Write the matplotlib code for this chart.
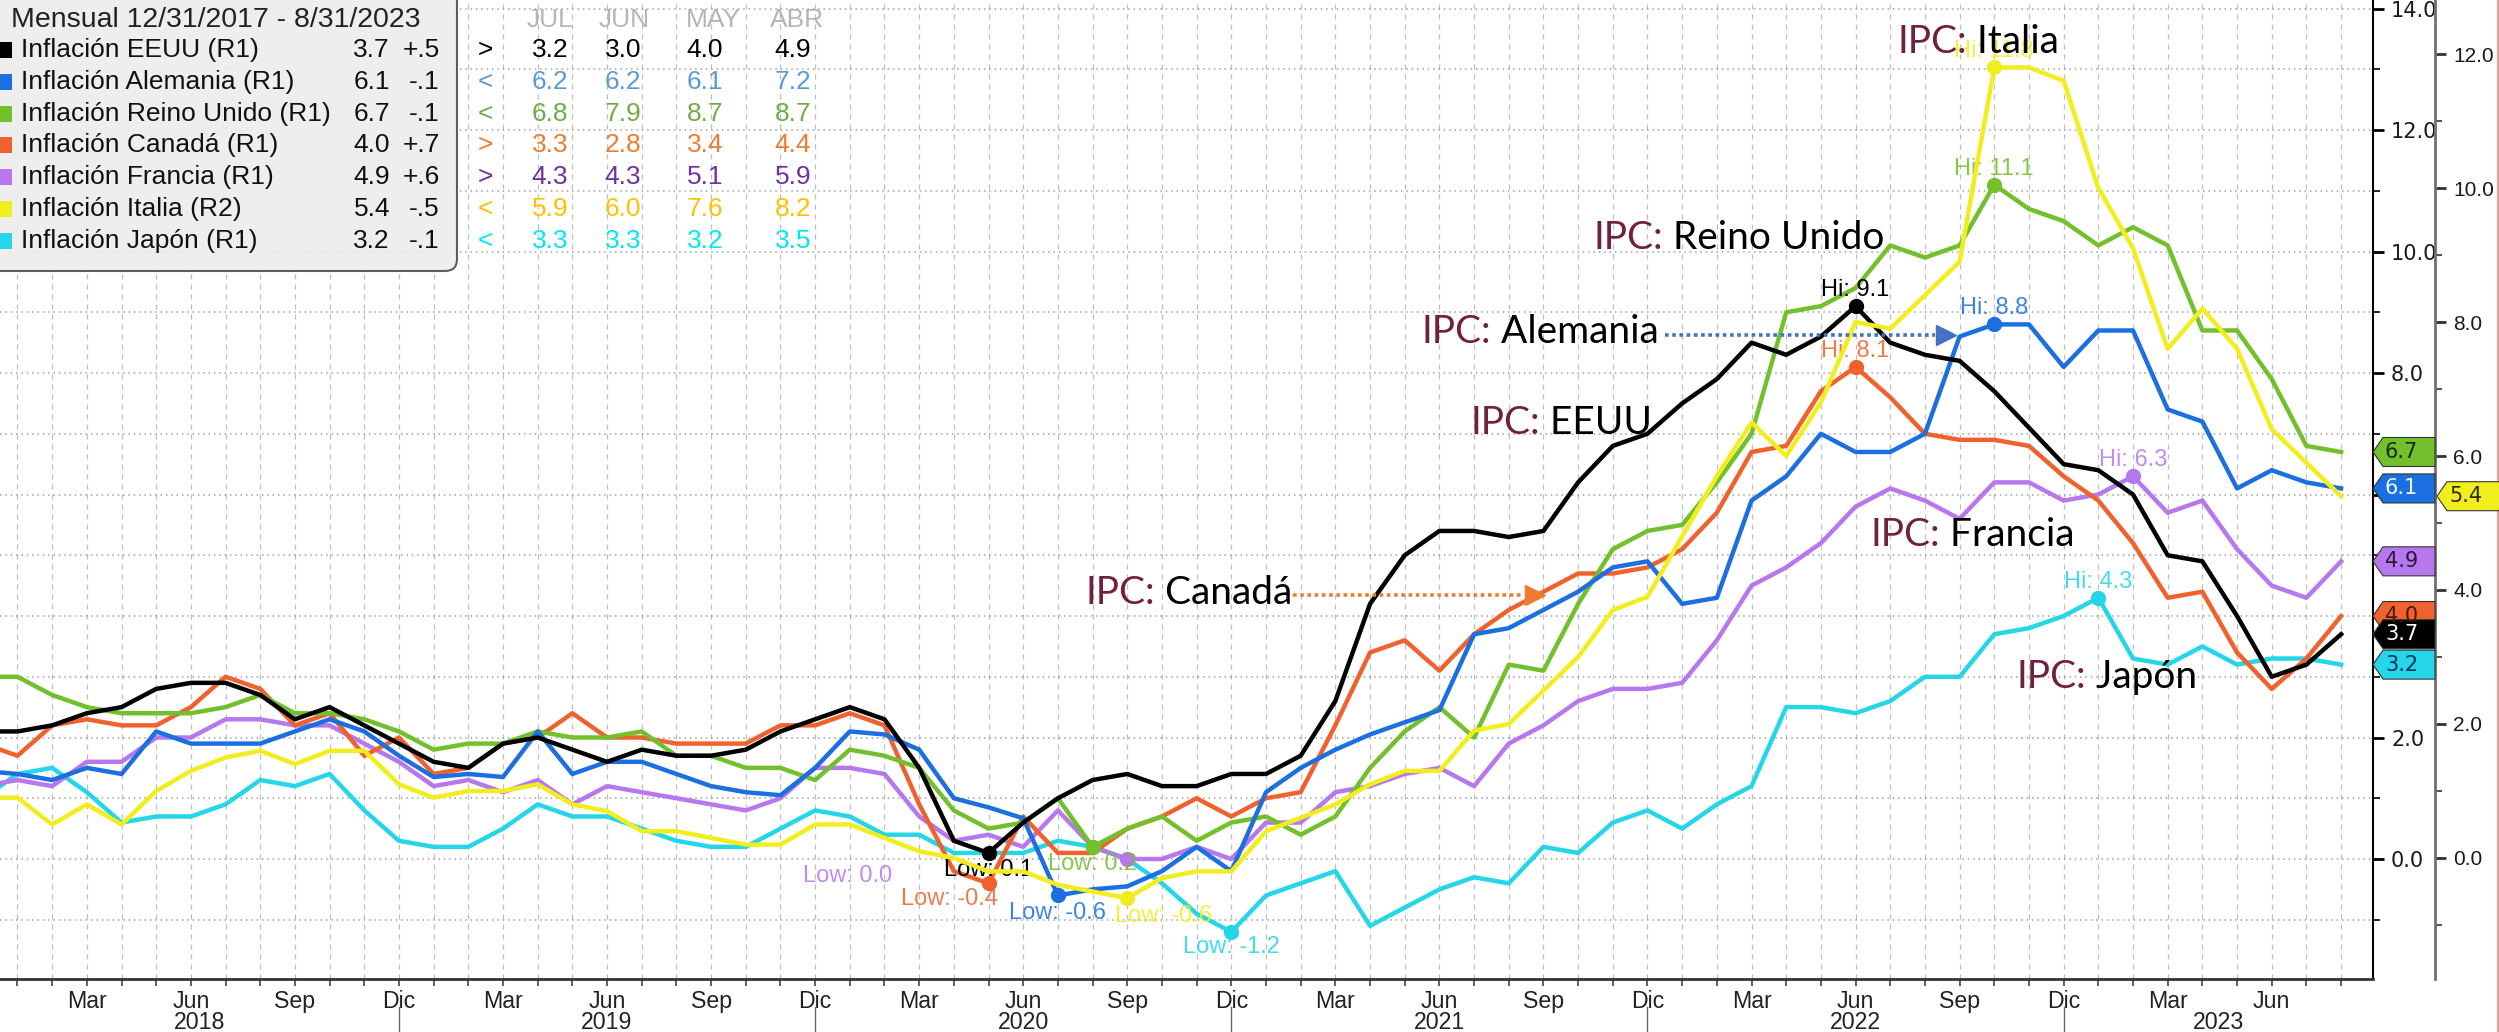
import numpy as np
import pandas as pd
import matplotlib
matplotlib.use("Agg")
import matplotlib.pyplot as plt
from matplotlib.patches import Polygon, FancyBboxPatch, Rectangle
from matplotlib.lines import Line2D
from matplotlib.ticker import FormatStrFormatter
from matplotlib.transforms import blended_transform_factory, IdentityTransform

plt.rcParams["font.family"] = ["Liberation Sans", "DejaVu Sans"]

# meses 12/2017 ... 8/2023 (inflacion interanual, %)
meses = pd.period_range("2017-12", "2023-08", freq="M")

eeuu = [2.1,
        2.1, 2.2, 2.4, 2.5, 2.8, 2.9, 2.9, 2.7, 2.3, 2.5, 2.2, 1.9,
        1.6, 1.5, 1.9, 2.0, 1.8, 1.6, 1.8, 1.7, 1.7, 1.8, 2.1, 2.3,
        2.5, 2.3, 1.5, 0.3, 0.1, 0.6, 1.0, 1.3, 1.4, 1.2, 1.2, 1.4,
        1.4, 1.7, 2.6, 4.2, 5.0, 5.4, 5.4, 5.3, 5.4, 6.2, 6.8, 7.0,
        7.5, 7.9, 8.5, 8.3, 8.6, 9.1, 8.5, 8.3, 8.2, 7.7, 7.1, 6.5,
        6.4, 6.0, 5.0, 4.9, 4.0, 3.0, 3.2, 3.7]
alemania = [1.45,
            1.4, 1.3, 1.5, 1.4, 2.1, 1.9, 1.9, 1.9, 2.1, 2.3, 2.1, 1.7,
            1.35, 1.4, 1.35, 2.1, 1.4, 1.6, 1.6, 1.4, 1.2, 1.1, 1.05, 1.5,
            2.1, 2.05, 1.8, 1.0, 0.85, 0.67, -0.6, -0.5, -0.45, -0.2, 0.2, -0.2,
            1.1, 1.5, 1.8, 2.05, 2.25, 2.45, 3.7, 3.8, 4.1, 4.4, 4.8, 4.9,
            4.2, 4.3, 5.9, 6.3, 7.0, 6.7, 6.7, 7.0, 8.6, 8.8, 8.8, 8.1,
            8.7, 8.7, 7.4, 7.2, 6.1, 6.4, 6.2, 6.1]
reino_unido = [3.0,
               3.0, 2.7, 2.5, 2.4, 2.4, 2.4, 2.5, 2.7, 2.4, 2.4, 2.3, 2.1,
               1.8, 1.9, 1.9, 2.1, 2.0, 2.0, 2.1, 1.7, 1.7, 1.5, 1.5, 1.3,
               1.8, 1.7, 1.5, 0.8, 0.5, 0.6, 1.0, 0.2, 0.5, 0.7, 0.3, 0.6,
               0.7, 0.4, 0.7, 1.5, 2.1, 2.5, 2.0, 3.2, 3.1, 4.2, 5.1, 5.4,
               5.5, 6.2, 7.0, 9.0, 9.1, 9.4, 10.1, 9.9, 10.1, 11.1, 10.7, 10.5,
               10.1, 10.4, 10.1, 8.7, 8.7, 7.9, 6.8, 6.7]
canada = [1.9,
          1.7, 2.2, 2.3, 2.2, 2.2, 2.5, 3.0, 2.8, 2.2, 2.4, 1.7, 2.0,
          1.4, 1.5, 1.9, 2.0, 2.4, 2.0, 2.0, 1.9, 1.9, 1.9, 2.2, 2.2,
          2.4, 2.2, 0.9, -0.2, -0.4, 0.7, 0.1, 0.1, 0.5, 0.7, 1.0, 0.7,
          1.0, 1.1, 2.2, 3.4, 3.6, 3.1, 3.7, 4.1, 4.4, 4.7, 4.7, 4.8,
          5.1, 5.7, 6.7, 6.8, 7.7, 8.1, 7.6, 7.0, 6.9, 6.9, 6.8, 6.3,
          5.9, 5.2, 4.3, 4.4, 3.4, 2.8, 3.3, 4.0]
francia = [1.2,
           1.3, 1.2, 1.6, 1.6, 2.0, 2.0, 2.3, 2.3, 2.2, 2.2, 1.9, 1.6,
           1.2, 1.3, 1.1, 1.3, 0.9, 1.2, 1.1, 1.0, 0.9, 0.8, 1.0, 1.5,
           1.5, 1.4, 0.7, 0.3, 0.4, 0.2, 0.8, 0.2, 0.0, 0.0, 0.2, 0.0,
           0.6, 0.6, 1.1, 1.2, 1.4, 1.5, 1.2, 1.9, 2.2, 2.6, 2.8, 2.8,
           2.9, 3.6, 4.5, 4.8, 5.2, 5.8, 6.1, 5.9, 5.6, 6.2, 6.2, 5.9,
           6.0, 6.3, 5.7, 5.9, 5.1, 4.5, 4.3, 4.9]
italia = [0.9,
          0.9, 0.5, 0.8, 0.5, 1.0, 1.3, 1.5, 1.6, 1.4, 1.6, 1.6, 1.1,
          0.9, 1.0, 1.0, 1.1, 0.8, 0.7, 0.4, 0.4, 0.3, 0.2, 0.2, 0.5,
          0.5, 0.3, 0.1, 0.0, -0.2, -0.2, -0.4, -0.5, -0.6, -0.3, -0.2, -0.2,
          0.4, 0.6, 0.8, 1.1, 1.3, 1.3, 1.9, 2.0, 2.5, 3.0, 3.7, 3.9,
          4.8, 5.7, 6.5, 6.0, 6.8, 8.0, 7.9, 8.4, 8.9, 11.8, 11.8, 11.6,
          10.0, 9.1, 7.6, 8.2, 7.6, 6.4, 5.9, 5.4]
japon = [1.0,
         1.4, 1.5, 1.1, 0.6, 0.7, 0.7, 0.9, 1.3, 1.2, 1.4, 0.8, 0.3,
         0.2, 0.2, 0.5, 0.9, 0.7, 0.7, 0.5, 0.3, 0.2, 0.2, 0.5, 0.8,
         0.7, 0.4, 0.4, 0.1, 0.1, 0.1, 0.3, 0.2, 0.0, -0.4, -0.9, -1.2,
         -0.6, -0.4, -0.2, -1.1, -0.8, -0.5, -0.3, -0.4, 0.2, 0.1, 0.6, 0.8,
         0.5, 0.9, 1.2, 2.5, 2.5, 2.4, 2.6, 3.0, 3.0, 3.7, 3.8, 4.0,
         4.3, 3.3, 3.2, 3.5, 3.2, 3.3, 3.3, 3.2]

paises = ["EEUU", "Alemania", "Reino Unido", "Canadá", "Francia", "Italia", "Japón"]
series = [eeuu, alemania, reino_unido, canada, francia, italia, japon]
ejes = ["R1", "R1", "R1", "R1", "R1", "R2", "R1"]
colores = ["#000000", "#1c6fe0", "#72c02c", "#f0622d", "#b778ee", "#f2ee1d", "#25d5e8"]
colores_tabla = ["#000000", "#5b9bd5", "#70ad47", "#ed7d31", "#7030a0", "#ffc000", "#00e8f0"]
colores_txt_tag = ["white", "#eef6ff", "#1a2a10", "#4a1a08", "#2a1a3a", "#2a2a00", "#10305a"]

# tabla de la derecha del cuadro de leyenda
tabla_meses = ["JUL", "JUN", "MAY", "ABR"]
tabla = [[3.2, 3.0, 4.0, 4.9],
         [6.2, 6.2, 6.1, 7.2],
         [6.8, 7.9, 8.7, 8.7],
         [3.3, 2.8, 3.4, 4.4],
         [4.3, 4.3, 5.1, 5.9],
         [5.9, 6.0, 7.6, 8.2],
         [3.3, 3.3, 3.2, 3.5]]

nombres_mes = {3: "Mar", 6: "Jun", 9: "Sep", 12: "Dic"}

W, H = 2499, 1032
fig = plt.figure(figsize=(W / 100, H / 100), dpi=100)
fig.patch.set_facecolor("white")
ax = fig.add_axes([0, 1 - 979 / H, 2373 / W, 979 / H])
ax2 = ax.twinx()
ax.yaxis.tick_right()

x = np.arange(len(meses))
XLIM = (0.496, 68.92)

# lineas (primera serie encima)
for k in reversed(range(len(paises))):
    eje = ax2 if ejes[k] == "R2" else ax
    eje.plot(x, series[k], color=colores[k], lw=3.2, zorder=3 + (7 - k) * 0.1)

# maximos y minimos
desp_low = {"EEUU": (0, -17), "Alemania": (0, -18), "Reino Unido": (0, -17),
            "Canadá": (-39, -16), "Francia": (-280, -17), "Italia": (36, -18),
            "Japón": (0, -15)}
for k, p in enumerate(paises):
    eje = ax2 if ejes[k] == "R2" else ax
    s = np.array(series[k])
    i_hi, i_lo = int(np.argmax(s)), int(np.argmin(s))
    for i, txt, off in [(i_hi, "Hi: %.1f" % s[i_hi], (0, 16)),
                        (i_lo, "Low: %.1f" % s[i_lo], desp_low[p])]:
        eje.plot(x[i], s[i], "o", ms=10, color=colores[k], zorder=5)
        eje.annotate(txt, xy=(x[i], s[i]), xytext=off, textcoords="offset pixels",
                     ha="center", va="center", fontsize=17, color=colores[k],
                     alpha=0.85 if k else 1, zorder=6)

# limites y ejes
ax.set_xlim(*XLIM)
ax.set_ylim(-1.975, 14.14)
ax2.set_ylim(-1.806, 12.806)

dentro = (x > XLIM[0]) & (x < XLIM[1])
trim = (meses.month % 3 == 0) & dentro
ax.set_xticks(x[trim])
ax.set_xticklabels([nombres_mes[m.month] for m in meses[trim]])
ax.set_xticks(x[dentro], minor=True)
ax.tick_params(axis="x", which="both", direction="out", length=5, width=1.2,
               color="#444444", labelsize=16.7, labelcolor="#222222", pad=3)

ax.set_yticks(np.arange(0, 15, 2))
ax.set_yticks(np.arange(-1, 14, 2), minor=True)
ax.yaxis.set_major_formatter(FormatStrFormatter("%.1f"))
ax.tick_params(axis="y", which="major", direction="out", length=8, width=2,
               color="black", labelsize=15, labelcolor="#1a1a1a", pad=5)
ax.tick_params(axis="y", which="minor", direction="out", length=5, width=1.2, color="black")

ax2.set_yticks(np.arange(0, 13, 2))
ax2.set_yticks(np.arange(-1, 13, 2), minor=True)
ax2.yaxis.set_major_formatter(FormatStrFormatter("%.1f"))
ax2.tick_params(axis="y", which="major", direction="out", length=8, width=2,
                color="#333333", labelsize=15, labelcolor="#1a1a1a", pad=5)
ax2.tick_params(axis="y", which="minor", direction="out", length=5, width=1.2, color="#333333")
for lab in ax.get_yticklabels() + ax2.get_yticklabels():
    lab.set_fontfamily("DejaVu Sans")

for nm in ["left", "top"]:
    ax.spines[nm].set_visible(False)
ax.spines["right"].set_linewidth(1.5)
ax.spines["bottom"].set_linewidth(2)
ax.spines["bottom"].set_color("#333333")
for nm in ["left", "top", "bottom"]:
    ax2.spines[nm].set_visible(False)
ax2.spines["right"].set_position(("axes", 2435 / 2373))
ax2.spines["right"].set_color("#707070")
ax2.spines["right"].set_linewidth(2)

ax.grid(True, which="both", axis="x", linestyle=(0, (4, 4)), color="#bdbdbd", lw=0.9)
ax.grid(True, which="both", axis="y", linestyle=(0, (1, 2.5)), color="#a0a0a0", lw=1.1)
ax.set_axisbelow(True)

# anios y separadores
bt = blended_transform_factory(ax.transData, ax.transAxes)
x0, x1 = ax.get_xlim()
dics = [i for i in x if meses[i].month == 12]
for i in dics:
    if x0 < i < x1:
        ax.plot([i, i], [-0.029, -0.06], transform=bt, color="#666666", lw=1, clip_on=False)
for j, y in enumerate(range(2018, 2024)):
    a = max(x0, dics[j])
    b = min(x1, dics[j + 1]) if j + 1 < len(dics) else x1
    ax.text((a + b) / 2, -0.044, str(y), transform=bt, ha="center", va="center",
            fontsize=16.7, color="#222222", clip_on=False)

# etiquetas IPC
def ipc(xv, yv, nombre):
    t1 = ax2.text(xv, yv, "IPC:", transform=ax.transData, fontsize=28, family="Lato",
                  color="#71203f", va="center", ha="left", zorder=10)
    ax2.annotate(" " + nombre, xy=(1, 0), xycoords=t1, fontsize=28, family="Lato",
                 color="black", va="bottom", ha="left", zorder=10)

ipc(55.2, 13.45, "Italia")
ipc(46.45, 10.22, "Reino Unido")
ipc(41.48, 8.67, "Alemania")
ipc(42.89, 7.18, "EEUU")
ipc(54.44, 5.33, "Francia")
ipc(58.64, 3.0, "Japón")
ipc(31.8, 4.38, "Canadá")

for (xa, xb, yv, col) in [(48.5, 56.3, 8.63, "#4472c4"), (37.78, 44.45, 4.35, "#ed7d31")]:
    ax2.plot([xa, xb], [yv, yv], transform=ax.transData, ls=(0, (1, 1)), color=col, lw=2.6, zorder=9)
    ax2.plot([xb + 0.3], [yv], transform=ax.transData, marker=">", ms=15, color=col, zorder=9)

ax2.set_ylim(-1.806, 12.806)
ax.set_ylim(-1.975, 14.14)
ax.set_xlim(*XLIM)

# etiquetas de ultimo valor en los ejes
ident = IdentityTransform()
orden = sorted(range(len(paises)), key=lambda k: -series[k][-1])
for k in orden:
    eje = ax2 if ejes[k] == "R2" else ax
    yd = eje.transData.transform((0, series[k][-1]))[1]
    if ejes[k] == "R2":
        xa, xb = 2437, 2505
    else:
        xa, xb = 2373, 2435
    pts = [(xa, yd), (xa + 10, yd + 14.5), (xb, yd + 14.5), (xb, yd - 14.5), (xa + 10, yd - 14.5)]
    fig.add_artist(Polygon(pts, closed=True, transform=ident, fc=colores[k],
                           ec="#333333", lw=0.8, zorder=7))
    fig.text((xa + 12) / W, yd / H, "%.1f" % series[k][-1], family="DejaVu Sans",
             fontsize=15, color=colores_txt_tag[k], va="center", ha="left", zorder=8)

# cuadro de leyenda
fig.add_artist(FancyBboxPatch((-20, H - 271), 477, 300, boxstyle="round,pad=0,rounding_size=12",
                              transform=ident, fc="#eeeeee", ec="#555555", lw=1.5,
                              alpha=0.95, zorder=5))

def ftext(px, py, s, **kw):
    kw.setdefault("va", "center")
    kw.setdefault("zorder", 6)
    return fig.text(px / W, 1 - py / H, s, **kw)

d0, d1 = meses[0].end_time, meses[-1].end_time
ftext(11, 20, "Mensual %d/%d/%d - %d/%d/%d" % (d0.month, d0.day, d0.year, d1.month, d1.day, d1.year),
      fontsize=20.5, color="#222222")
col_h = [550, 624, 713, 797]
col_v = [550, 623, 705, 793]
for m, cx in zip(tabla_meses, col_h):
    ftext(cx, 20, m, fontsize=19, color="#b5b5b5", ha="center")

for k, p in enumerate(paises):
    y = 50 + 31.8 * k
    s = series[k]
    fig.add_artist(Rectangle((0, H - y - 8), 12, 16, transform=ident, fc=colores[k],
                             ec="none", zorder=6))
    ftext(21, y, "Inflación %s (%s)" % (p, ejes[k]), fontsize=19, color="#111111")
    ftext(390, y, "%.1f" % s[-1], fontsize=19, color="#111111", ha="right")
    ch = ("%+.1f" % (s[-1] - s[-2])).replace("0.", ".")
    ftext(440, y, ch, fontsize=19, color="#111111", ha="right")
    ftext(485, y, ">" if s[-1] > tabla[k][0] else "<", fontsize=19, color=colores_tabla[k], ha="center")
    for v, cx in zip(tabla[k], col_v):
        ftext(cx, y, "%.1f" % v, fontsize=19, color=colores_tabla[k], ha="center")

fig.add_artist(Line2D([2497.5, 2497.5], [0, H], transform=ident, color="#e39a9a", lw=2))

fig.savefig("out.png", dpi=100, facecolor="white")
